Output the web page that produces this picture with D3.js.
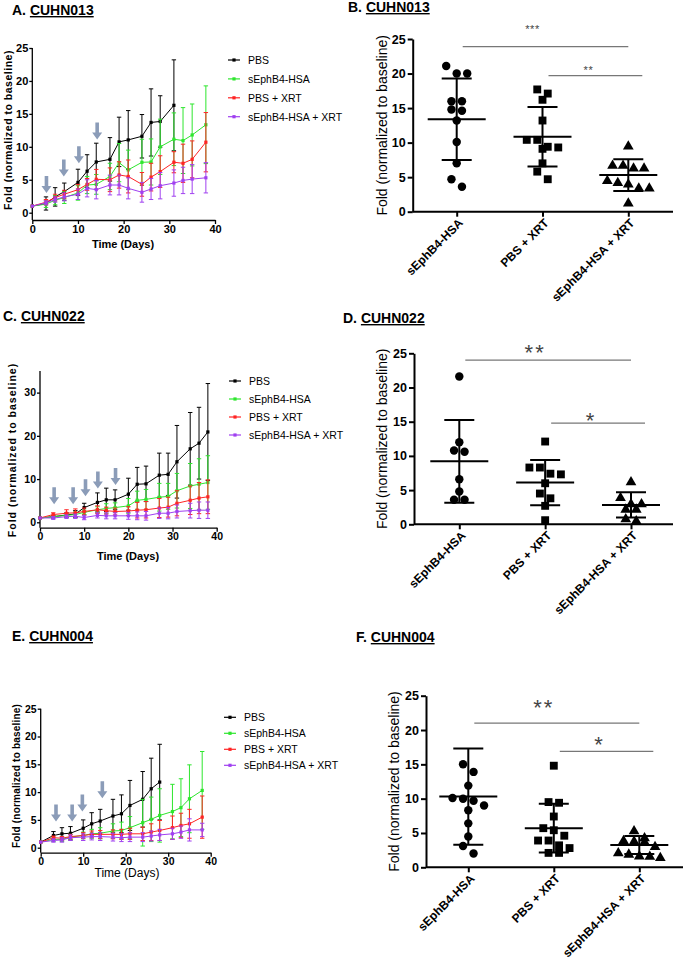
<!doctype html>
<html lang="en">
<head>
<meta charset="UTF-8">
<title>sEphB4-HSA growth and fold change</title>
<style>
  body { margin: 0; background: #fff; }
  svg { display: block; font-family: "Liberation Sans", Arial, sans-serif; }
</style>
</head>
<body>
<svg id="fig" width="685" height="972"></svg>
<script src="https://d3js.org/d3.v7.min.js"></script>
<script>
// ---------- data ----------
const seriesNames = ["PBS", "sEphB4-HSA", "PBS + XRT", "sEphB4-HSA + XRT"];
const groupNames = ["sEphB4-HSA", "PBS + XRT", "sEphB4-HSA + XRT"];
const dayTicks = [0, 10, 20, 30, 40];

// A. CUHN013 growth curves (mean, SD)
const aDays = [0, 3, 5, 7, 10, 12, 14, 17, 19, 21, 24, 26, 28, 31, 33, 35, 38];
const aPBS = [1.0, 1.4, 2.4, 3.2, 4.6, 6.3, 7.7, 8.1, 10.75, 11.05, 11.6, 13.7, 13.85, 16.3];
const aPBSErr = [0, 1.0, 1.4, 1.3, 2.0, 2.5, 2.85, 3.3, 3.75, 4.45, 3.3, 5.1, 3.9, 6.9];
const aHSA = [1.0, 1.3, 1.9, 2.3, 3.0, 4.2, 4.3, 5.5, 7.6, 6.5, 7.65, 7.7, 10.0, 11.15, 10.95, 11.8, 13.35];
const aHSAErr = [0, 0.5, 0.7, 0.9, 1.1, 1.3, 1.5, 2.0, 2.9, 3.0, 3.5, 3.5, 4.2, 4.0, 5.0, 4.7, 5.9];
const aXRT = [1.0, 1.6, 2.3, 2.8, 3.5, 4.3, 5.07, 5.0, 5.73, 5.5, 4.3, 5.4, 6.24, 7.66, 7.5, 8.1, 10.7];
const aXRTErr = [0, 0.4, 0.5, 0.6, 0.8, 0.9, 1.5, 1.8, 2.0, 2.5, 1.8, 2.1, 2.4, 1.6, 2.9, 2.8, 4.5];
const aCombo = [1.0, 1.5, 2.0, 2.4, 2.8, 3.7, 3.5, 4.2, 4.2, 3.7, 3.1, 3.6, 4.1, 4.5, 4.9, 5.1, 5.3];
const aComboErr = [0, 0.3, 0.4, 0.6, 0.8, 1.3, 1.4, 1.5, 1.5, 1.6, 1.5, 1.6, 2.0, 2.0, 2.0, 2.2, 2.3];
const aArrowDays = [3.1, 6.9, 10.2, 14.2];
const aArrowTips = [3.0, 5.5, 7.5, 11.1];

// C. CUHN022 growth curves
const cDays = [0, 3, 6, 8, 10, 13, 15, 17, 20, 22, 24, 27, 29, 31, 34, 36, 38];
const cPBS = [1.0, 1.3, 1.7, 1.9, 3.4, 4.6, 5.2, 5.2, 6.5, 8.8, 8.9, 10.9, 11.1, 14.0, 17.0, 18.3, 20.9];
const cPBSErr = [0, 0.3, 0.5, 0.8, 1.0, 2.2, 2.7, 2.3, 3.7, 3.9, 4.1, 5.1, 4.9, 8.4, 8.4, 8.3, 11.2];
const cHSA = [1.0, 1.3, 1.6, 1.8, 2.3, 2.9, 3.2, 3.4, 3.8, 5.1, 5.3, 5.8, 6.0, 7.3, 8.4, 8.8, 9.2];
const cHSAErr = [0, 0.2, 0.4, 0.6, 0.5, 0.7, 1.1, 1.1, 1.7, 2.1, 2.3, 3.2, 3.0, 4.0, 5.2, 5.9, 6.2];
const cXRT = [1.0, 1.8, 2.1, 2.2, 2.5, 2.9, 2.7, 2.5, 2.6, 2.8, 2.9, 3.3, 3.5, 4.4, 5.1, 5.6, 5.9];
const cXRTErr = [0, 0.4, 0.8, 0.9, 0.8, 0.9, 0.8, 0.8, 1.0, 1.8, 1.9, 2.2, 2.3, 2.9, 3.3, 3.6, 3.9];
const cCombo = [1.0, 1.0, 1.3, 1.4, 1.1, 1.6, 1.5, 1.5, 1.5, 1.5, 1.5, 2.1, 2.1, 2.5, 2.7, 2.8, 2.8];
const cComboErr = [0, 0.3, 0.4, 0.5, 0.5, 0.6, 0.7, 0.7, 0.8, 0.9, 1.0, 1.2, 1.3, 1.5, 1.7, 1.9, 1.9];
const cArrowDays = [3.2, 7.5, 10.3, 13.1, 17.1];
const cArrowTips = [4.2, 4.2, 6.0, 7.8, 8.6];

// E. CUHN004 growth curves
const eDays = [0, 3, 5, 7, 10, 12, 14, 17, 19, 21, 24, 26, 28, 31, 33, 35, 38];
const ePBS = [1.0, 2.2, 2.5, 2.6, 3.5, 4.3, 4.8, 5.7, 6.1, 7.6, 8.7, 10.6, 11.8];
const ePBSErr = [0, 0.7, 1.1, 1.2, 1.5, 2.0, 2.1, 3.0, 3.4, 4.5, 5.0, 5.5, 6.8];
const eHSA = [1.0, 1.5, 1.5, 1.9, 2.2, 2.5, 2.6, 3.0, 3.1, 3.6, 4.5, 5.1, 5.8, 6.5, 7.2, 8.8, 10.3];
const eHSAErr = [0, 0.4, 0.4, 0.5, 0.6, 0.8, 1.0, 1.3, 1.5, 2.0, 4.2, 4.0, 4.8, 4.9, 5.2, 6.1, 7.0];
const eXRT = [1.0, 1.8, 1.7, 2.0, 2.2, 2.4, 2.4, 2.4, 2.4, 2.5, 2.5, 2.8, 3.1, 3.6, 4.0, 4.3, 5.5];
const eXRTErr = [0, 0.3, 0.3, 0.4, 0.5, 0.6, 0.7, 0.8, 0.9, 1.0, 1.2, 1.5, 1.8, 2.1, 2.2, 2.6, 3.8];
const eCombo = [1.0, 1.3, 1.4, 1.8, 1.9, 2.0, 2.0, 1.9, 1.8, 1.9, 1.9, 2.1, 2.3, 2.5, 2.8, 3.2, 3.2];
const eComboErr = [0, 0.3, 0.4, 0.5, 0.6, 0.6, 0.7, 0.7, 0.7, 0.8, 0.8, 0.9, 1.0, 1.0, 1.1, 2.0, 1.2];
const eArrowDays = [3.6, 7.4, 9.8, 14.5];
const eArrowTips = [4.7, 4.7, 6.5, 8.9];

// B. CUHN013 fold change per animal, with mean and SD bars
const bHSA = [21.1, 20.0, 20.0, 16.0, 16.0, 14.8, 14.6, 13.2, 10.1, 7.0, 4.7, 3.6];
const bXRT = [17.7, 17.1, 16.2, 13.2, 10.4, 10.4, 9.4, 9.3, 9.1, 7.0, 5.8, 4.7];
const bCombo = [9.6, 6.8, 6.8, 6.4, 6.4, 4.6, 4.3, 4.1, 3.5, 3.5, 1.35];
const bMean = [13.4, 10.85, 5.3];
const bSD = [5.9, 4.3, 2.3];
const bSigLabels = ["***", "**"];
const bSigPairs = [[0, 2], [1, 2]];
const bSigBarAt = [23.9, 19.7];

// D. CUHN022
const dHSA = [21.6, 12.0, 10.8, 10.6, 6.6, 4.8, 3.6, 3.6];
const dXRT = [12.1, 8.3, 8.3, 7.4, 7.3, 6.0, 4.5, 3.8, 2.7, 0.6];
const dCombo = [6.3, 4.0, 3.1, 3.1, 2.3, 2.3, 0.9, 0.6];
const dMean = [9.2, 6.1, 2.83];
const dSD = [6.05, 3.3, 1.85];
const dSigLabels = ["**", "*"];
const dSigPairs = [[0, 2], [1, 2]];
const dSigBarAt = [24.0, 14.8];

// F. CUHN004
const fHSA = [15.0, 13.9, 11.9, 10.1, 10.0, 9.7, 9.0, 8.3, 6.4, 4.5, 3.1, 2.0];
const fXRT = [14.8, 9.5, 9.4, 7.4, 5.7, 5.4, 4.6, 3.9, 3.9, 3.2, 2.8, 2.1, 2.1];
const fCombo = [5.4, 4.4, 4.0, 3.9, 3.8, 3.1, 2.2, 2.0, 1.75, 1.7, 1.5];
const fMean = [10.3, 5.7, 3.25];
const fSD = [7.0, 3.55, 1.3];
const fSigLabels = ["**", "*"];
const fSigPairs = [[0, 2], [1, 2]];
const fSigBarAt = [21.0, 16.9];

// ---------- drawing ----------
const svg = d3.select("#fig");
const colors = ["#000000", "#2ee62e", "#ff2424", "#a040f0"];
const arrowColor = "#8b9cb8";

function title(x, y, letter, name) {
    const t = svg.append("text").attr("x", x).attr("y", y)
        .attr("font-size", 14).attr("font-weight", "bold");
    t.append("tspan").text(letter + " ");
    t.append("tspan").attr("text-decoration", "underline").text(name);
}

function linePanel(p) {
    const x = d3.scaleLinear().domain([0, 40]).range([p.x0, p.x1]);
    const y = d3.scaleLinear().domain([0, p.yMax]).range([p.y0, p.yTop]);
    const g = svg.append("g");

    // y axis runs down to the dropped x axis
    g.append("line")
        .attr("x1", p.x0).attr("x2", p.x0)
        .attr("y1", y(p.yMax)).attr("y2", p.axisY)
        .attr("stroke", "#000").attr("stroke-width", 1.3);
    const ya = g.append("g")
        .attr("transform", `translate(${p.x0},0)`)
        .call(d3.axisLeft(y).tickValues(p.yTicks).tickSize(3).tickPadding(1));
    ya.select(".domain").remove();

    const xa = g.append("g")
        .attr("transform", `translate(0,${p.axisY})`)
        .call(d3.axisBottom(x).tickValues(dayTicks).tickSize(4).tickSizeOuter(0).tickPadding(1));

    [ya, xa].forEach(a => {
        a.selectAll("line, path").attr("stroke", "#000").attr("stroke-width", 1.3);
        a.selectAll("text").attr("font-size", p.tickFont).attr("font-weight", "bold")
            .attr("fill", "#000").attr("font-family", null);
    });

    // treatment arrows
    p.arrowDays.forEach((d, i) => {
        const ax = x(d), ay = y(p.arrowTips[i]);
        g.append("path")
            .attr("d", `M${ax},${ay} l-5,-7 h3.2 v-10 h3.6 v10 h3.2 z`)
            .attr("fill", arrowColor);
    });

    const line = d3.line().x(d => x(d.day)).y(d => y(d.v));
    p.series.forEach((s, i) => {
        const pts = s[0].map((v, j) => ({ day: p.days[j], v: v, e: s[1][j] }));
        const sg = g.append("g").attr("stroke", colors[i]).attr("fill", colors[i]);
        sg.selectAll(".eb").data(pts.filter(d => d.e > 0)).enter()
            .append("path").attr("class", "eb")
            .attr("fill", "none").attr("stroke-width", 1)
            .attr("d", d => {
                const cx = x(d.day), hi = y(d.v + d.e), lo = y(Math.max(0, d.v - d.e));
                return `M${cx},${lo}V${hi}M${cx - 2.2},${hi}h4.4M${cx - 2.2},${lo}h4.4`;
            });
        sg.append("path").datum(pts)
            .attr("fill", "none").attr("stroke-width", 1)
            .attr("d", line);
        sg.selectAll(".pt").data(pts).enter()
            .append("rect").attr("class", "pt")
            .attr("x", d => x(d.day) - 1.6).attr("y", d => y(d.v) - 1.6)
            .attr("width", 3.2).attr("height", 3.2).attr("stroke", "none");
    });

    // legend
    seriesNames.forEach((n, i) => {
        const ly = p.legY + i * p.legStep;
        g.append("line")
            .attr("x1", p.legX).attr("x2", p.legX + 12)
            .attr("y1", ly).attr("y2", ly)
            .attr("stroke", colors[i]).attr("stroke-width", 1.2);
        g.append("rect")
            .attr("x", p.legX + 4.4).attr("y", ly - 1.6)
            .attr("width", 3.2).attr("height", 3.2).attr("fill", colors[i]);
        g.append("text")
            .attr("x", p.legX + 20).attr("y", ly + 3.8)
            .attr("font-size", p.legFont).text(n);
    });

    // axis titles
    g.append("text")
        .attr("transform", `translate(${p.yLabX},${p.yLabY}) rotate(-90)`)
        .attr("text-anchor", "middle")
        .attr("font-size", p.yLabFont).attr("font-weight", "bold")
        .attr("letter-spacing", p.yLabSpacing)
        .text("Fold (normalized to baseline)");
    g.append("text")
        .attr("x", p.xLabX).attr("y", p.xLabY)
        .attr("text-anchor", "middle")
        .attr("font-size", p.xLabFont).attr("font-weight", p.xLabWeight)
        .text("Time (Days)");
}

// place the dots of one group in rows, GraphPad style
function spread(values, y, rowH, gap) {
    const pts = values.map(v => ({ v: v })).sort((a, b) => b.v - a.v);
    const rows = [];
    pts.forEach(pt => {
        const row = rows[rows.length - 1];
        if (row && y(pt.v) - y(row[0].v) < rowH) row.push(pt);
        else rows.push([pt]);
    });
    rows.forEach(row => row.forEach((pt, i) => { pt.dx = (i - (row.length - 1) / 2) * gap; }));
    return pts;
}

const shapes = [d3.symbolCircle, d3.symbolSquare, d3.symbolTriangle];
const shapeSize = [56, 62, 50];

function dotPanel(p) {
    const x = d3.scalePoint().domain(groupNames).range([p.c0, p.c2]);
    const y = d3.scaleLinear().domain([0, 25]).range([p.y0, p.yTop]);
    const g = svg.append("g");

    const ya = g.append("g")
        .attr("transform", `translate(${p.x0},0)`)
        .call(d3.axisLeft(y).tickValues([0, 5, 10, 15, 20, 25]).tickSize(5).tickSizeOuter(0).tickPadding(2));
    const xa = g.append("g")
        .attr("transform", `translate(0,${p.y0})`)
        .call(d3.axisBottom(x).tickSize(5).tickSizeOuter(0).tickFormat(""));
    xa.select(".domain").attr("d", `M${p.x0},0H${p.x1}`);
    [ya, xa].forEach(a => {
        a.selectAll("line, path").attr("stroke", "#000").attr("stroke-width", 2);
    });
    ya.selectAll("text").attr("font-size", 12.5).attr("font-weight", "bold")
        .attr("fill", "#000").attr("font-family", null);

    groupNames.forEach((gName, i) => {
        g.append("text")
            .attr("transform", `translate(${x(gName) + 7},${p.y0 + 12}) rotate(-45)`)
            .attr("text-anchor", "end")
            .attr("font-size", 12).attr("font-weight", "bold")
            .text(gName);

        const cx = x(gName), m = p.mean[i], s = p.sd[i];
        g.append("path")
            .attr("d", `M${cx},${y(m + s)}V${y(m - s)}` +
                `M${cx - 29},${y(m)}h58` +
                `M${cx - 15},${y(m + s)}h30M${cx - 15},${y(m - s)}h30`)
            .attr("stroke", "#000").attr("stroke-width", 2).attr("fill", "none");

        const sym = d3.symbol().type(shapes[i]).size(shapeSize[i]);
        g.selectAll(".dot" + i).data(spread(p.groups[i], y, 8, 10.5)).enter()
            .append("path").attr("class", "dot" + i)
            .attr("transform", d => `translate(${cx + d.dx},${y(d.v) + (i === 2 ? 1 : 0)})`)
            .attr("d", sym).attr("fill", "#000");
    });

    // significance brackets
    p.sigLabels.forEach((lab, k) => {
        const [a, b] = p.sigPairs[k];
        const x1 = x(groupNames[a]) + 6;
        const x2 = x(groupNames[b]) + (k === 0 ? 0 : 14);
        const by = y(p.sigBarAt[k]);
        const tx = k === 0 ? x(groupNames[1]) - 10 : (x(groupNames[a]) + x(groupNames[b])) / 2 + 3;
        g.append("line").attr("x1", x1).attr("x2", x2).attr("y1", by).attr("y2", by)
            .attr("stroke", "#777").attr("stroke-width", 1.3);
        g.append("text")
            .attr("x", tx).attr("y", by - p.starGap[k])
            .attr("text-anchor", "middle")
            .attr("font-size", p.starFont).attr("letter-spacing", p.starSpacing)
            .attr("fill", "#444")
            .text(lab);
    });

    g.append("text")
        .attr("transform", `translate(${p.yLabX},${(p.y0 + p.yTop) / 2}) rotate(-90)`)
        .attr("text-anchor", "middle")
        .attr("font-size", 14)
        .text("Fold (normalized to baseline)");
}

title(12, 15, "A.", "CUHN013");
title(348, 12, "B.", "CUHN013");
title(3, 321, "C.", "CUHN022");
title(343, 323, "D.", "CUHN022");
title(12, 641, "E.", "CUHN004");
title(356, 642, "F.", "CUHN004");

linePanel({
    days: aDays, yMax: 25, yTicks: [0, 5, 10, 15, 20, 25],
    x0: 32.3, x1: 215, y0: 212.7, yTop: 48, axisY: 220,
    series: [[aPBS, aPBSErr], [aHSA, aHSAErr], [aXRT, aXRTErr], [aCombo, aComboErr]],
    arrowDays: aArrowDays, arrowTips: aArrowTips,
    tickFont: 11, legX: 228, legY: 60, legStep: 18.9, legFont: 10.5,
    yLabX: 12, yLabY: 130, yLabFont: 10.5, yLabSpacing: 0.5,
    xLabX: 123, xLabY: 248, xLabFont: 11, xLabWeight: "bold"
});

linePanel({
    days: cDays, yMax: 35, yTicks: [0, 10, 20, 30],
    x0: 40, x1: 216.7, y0: 522.3, yTop: 371, axisY: 527.7,
    series: [[cPBS, cPBSErr], [cHSA, cHSAErr], [cXRT, cXRTErr], [cCombo, cComboErr]],
    arrowDays: cArrowDays, arrowTips: cArrowTips,
    tickFont: 10.5, legX: 229, legY: 381, legStep: 18, legFont: 10.5,
    yLabX: 16, yLabY: 450, yLabFont: 10.5, yLabSpacing: 1,
    xLabX: 128, xLabY: 560, xLabFont: 11, xLabWeight: "bold"
});

linePanel({
    days: eDays, yMax: 25, yTicks: [0, 5, 10, 15, 20, 25],
    x0: 40.7, x1: 210.7, y0: 847.7, yTop: 708.7, axisY: 852.7,
    series: [[ePBS, ePBSErr], [eHSA, eHSAErr], [eXRT, eXRTErr], [eCombo, eComboErr]],
    arrowDays: eArrowDays, arrowTips: eArrowTips,
    tickFont: 10.5, legX: 224, legY: 717.3, legStep: 16, legFont: 10.5,
    yLabX: 20, yLabY: 776, yLabFont: 10, yLabSpacing: 0.2,
    xLabX: 127, xLabY: 877, xLabFont: 12, xLabWeight: "normal"
});

dotPanel({
    groups: [bHSA, bXRT, bCombo], mean: bMean, sd: bSD,
    sigLabels: bSigLabels, sigPairs: bSigPairs, sigBarAt: bSigBarAt,
    starFont: 11, starSpacing: 0.5, starGap: [14, 2],
    x0: 412.7, x1: 673, c0: 456.7, c2: 628.3, y0: 211.7, yTop: 39, yLabX: 387
});

dotPanel({
    groups: [dHSA, dXRT, dCombo], mean: dMean, sd: dSD,
    sigLabels: dSigLabels, sigPairs: dSigPairs, sigBarAt: dSigBarAt,
    starFont: 22, starSpacing: 2, starGap: [0, -5],
    x0: 414, x1: 673, c0: 459.3, c2: 631, y0: 524.3, yTop: 353.3, yLabX: 387
});

dotPanel({
    groups: [fHSA, fXRT, fCombo], mean: fMean, sd: fSD,
    sigLabels: fSigLabels, sigPairs: fSigPairs, sigBarAt: fSigBarAt,
    starFont: 22, starSpacing: 2, starGap: [8, -1],
    x0: 426, x1: 683, c0: 468.3, c2: 639.3, y0: 867.3, yTop: 695.7, yLabX: 399
});
</script>
</body>
</html>
